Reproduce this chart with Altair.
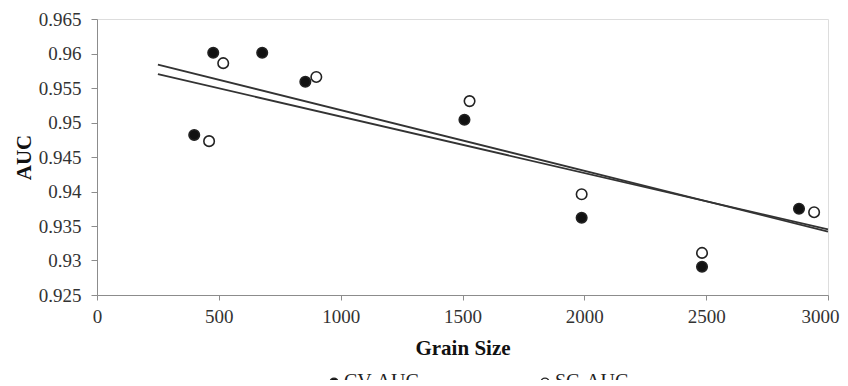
import altair as alt
import pandas as pd

# Scatter values
cv_grain = [399, 477, 678, 855, 1508, 1989, 2483, 2881]
cv_auc = [0.9482, 0.9601, 0.9601, 0.9559, 0.9504, 0.9362, 0.9291, 0.9375]
sc_grain = [460, 518, 900, 1529, 1989, 2483, 2943]
sc_auc = [0.9473, 0.9586, 0.9566, 0.9531, 0.9396, 0.9311, 0.9370]

# Trend line end values (in data units)
trend_grain = [250, 3000]
cv_trend = [0.9570, 0.9345]
sc_trend = [0.9584, 0.9342]

series_names = ["CV-AUC", "SC-AUC"]

pts = pd.DataFrame(
    {"grain": cv_grain + sc_grain,
     "auc": cv_auc + sc_auc,
     "series": [series_names[0]] * len(cv_grain) + [series_names[1]] * len(sc_grain)}
)
trend = pd.DataFrame(
    {"grain": trend_grain * 2,
     "auc": cv_trend + sc_trend,
     "series": [series_names[0]] * 2 + [series_names[1]] * 2}
)

FONT = "Liberation Serif"

x_enc = alt.X("grain:Q", title="Grain Size",
              scale=alt.Scale(domain=[0, 3000], nice=False, zero=False),
              axis=alt.Axis(values=[0, 500, 1000, 1500, 2000, 2500, 3000], format="d",
                            grid=False, domainColor="#8c8c8c", tickColor="#8c8c8c",
                            tickSize=5, labelPadding=7, labelFontSize=19, labelFlush=False,
                            labelOffset={"condition": {"test": "datum.value == 3000", "value": -8},
                                         "value": 0},
                            labelColor="#333333", labelFont=FONT,
                            titleFont=FONT, titleFontSize=21, titleFontWeight="bold",
                            titleColor="#111111", titlePadding=11))
y_enc = alt.Y("auc:Q", title="AUC",
              scale=alt.Scale(domain=[0.925, 0.965], nice=False, zero=False),
              axis=alt.Axis(values=[0.925, 0.93, 0.935, 0.94, 0.945, 0.95, 0.955, 0.96, 0.965],
                            format=".3~f", grid=False, domainColor="#8c8c8c",
                            tickColor="#8c8c8c", tickSize=6, labelPadding=10, labelFlush=False,
                            labelFontSize=19, labelColor="#333333", labelFont=FONT,
                            titleFont=FONT, titleFontSize=21, titleFontWeight="bold",
                            titleColor="#111111", titlePadding=4))

lines = alt.Chart(trend).mark_line(color="#333333", strokeWidth=1.8).encode(
    x=x_enc, y=y_enc, detail="series:N"
)

points = alt.Chart(pts).mark_point(
    filled=True, shape="circle", size=110, stroke="#222222", strokeWidth=1.6, opacity=1
).encode(
    x=x_enc, y=y_enc,
    fill=alt.Fill("series:N",
                  scale=alt.Scale(domain=series_names, range=["#111111", "#ffffff"]),
                  legend=alt.Legend(title=None, orient="none", direction="horizontal",
                                    legendX=227, legendY=353, columnPadding=116,
                                    symbolType="circle", symbolSize=60,
                                    symbolStrokeColor="#222222", symbolStrokeWidth=1.4,
                                    symbolOpacity=1, labelFont=FONT, labelFontSize=20,
                                    labelColor="#222222", labelOffset=0, labelLimit=300))
)

chart = alt.layer(lines, points).properties(
    width=731, height=276,
    autosize=alt.AutoSizeParams(type="none"),
    padding={"left": 89, "top": 11, "right": 12, "bottom": 85},
).configure_view(stroke=None).configure(background="white")

chart.save("out.html", embed_options={"renderer": "svg", "actions": False})
